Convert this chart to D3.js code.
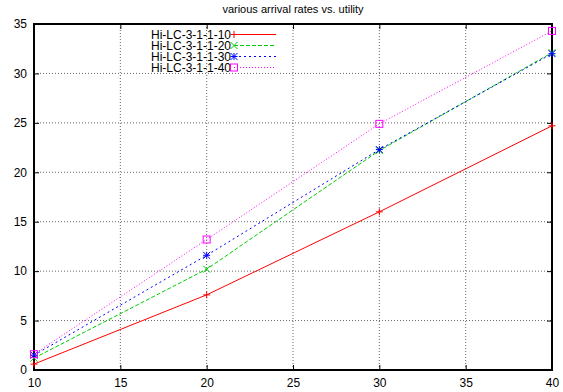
<!DOCTYPE html>
<html>
<head>
<meta charset="utf-8">
<script src="https://cdn.jsdelivr.net/npm/d3@7"></script>
<style>
body { margin: 0; background: #fff; }
text { font-family: "Liberation Sans", Arial, sans-serif; }
</style>
</head>
<body>
<svg id="chart" width="563" height="392"></svg>
<script>
var xValues = [10, 20, 30, 40];
var seriesNames = ["Hi-LC-3-1-1-10", "Hi-LC-3-1-1-20", "Hi-LC-3-1-1-30", "Hi-LC-3-1-1-40"];
var lc10 = [0.6, 7.6, 16.0, 24.7];
var lc20 = [1.2, 10.2, 22.2, 32.1];
var lc30 = [1.5, 11.6, 22.3, 32.0];
var lc40 = [1.6, 13.2, 24.9, 34.3];
var xTicks = [10, 15, 20, 25, 30, 35, 40];
var yTicks = [0, 5, 10, 15, 20, 25, 30, 35];

function chart(){
    var svg = d3.select("#chart"),
        pLeft = 34, pRight = 552, pTop = 24, pBottom = 370;

    var x = d3.scaleLinear().domain([10, 40]).range([pLeft, pRight]);
    var y = d3.scaleLinear().domain([0, 35]).range([pBottom, pTop]);

    var styles = [
        {color: "#ff0000", dash: null, marker: "plus"},
        {color: "#00cc00", dash: "4,2", marker: "cross"},
        {color: "#0000ff", dash: "2,3", marker: "star"},
        {color: "#ff00ff", dash: "1,2", marker: "box"}
    ];
    var allSeries = [lc10, lc20, lc30, lc40];

    // titulo
    svg.append("text")
        .attr("x", (pLeft + pRight) / 2)
        .attr("y", 13)
        .attr("text-anchor", "middle")
        .attr("font-size", "11px")
        .text("various arrival rates vs. utility");

    // grid
    svg.append("g").selectAll("line").data(xTicks.slice(1, -1)).enter().append("line")
        .attr("x1", function(d){ return x(d); }).attr("x2", function(d){ return x(d); })
        .attr("y1", pTop).attr("y2", pBottom)
        .attr("stroke", "#666").attr("stroke-width", 1).attr("stroke-dasharray", "1,2");
    svg.append("g").selectAll("line").data(yTicks.slice(1, -1)).enter().append("line")
        .attr("y1", function(d){ return y(d); }).attr("y2", function(d){ return y(d); })
        .attr("x1", pLeft).attr("x2", pRight)
        .attr("stroke", "#666").attr("stroke-width", 1).attr("stroke-dasharray", "1,2");

    // ejes (ticks hacia dentro)
    svg.append("g").attr("transform", "translate(0," + pBottom + ")")
        .call(d3.axisBottom(x).tickValues(xTicks).tickSize(-5).tickPadding(8))
        .call(function(g){ g.select(".domain").remove(); })
        .selectAll("text").attr("font-size", "12px").attr("fill", "#000");
    svg.append("g").attr("transform", "translate(" + pLeft + ",0)")
        .call(d3.axisLeft(y).tickValues(yTicks).tickSize(-5).tickPadding(7))
        .call(function(g){ g.select(".domain").remove(); })
        .selectAll("text").attr("font-size", "12px").attr("fill", "#000");
    svg.append("g").attr("transform", "translate(0," + pTop + ")")
        .call(d3.axisTop(x).tickValues(xTicks).tickSize(-5).tickFormat(""))
        .call(function(g){ g.select(".domain").remove(); });
    svg.append("g").attr("transform", "translate(" + pRight + ",0)")
        .call(d3.axisRight(y).tickValues(yTicks).tickSize(-5).tickFormat(""))
        .call(function(g){ g.select(".domain").remove(); });

    svg.append("rect")
        .attr("x", pLeft).attr("y", pTop)
        .attr("width", pRight - pLeft).attr("height", pBottom - pTop)
        .attr("fill", "none").attr("stroke", "#000").attr("stroke-width", 2);

    var line = d3.line()
        .x(function(d, i){ return x(xValues[i]); })
        .y(function(d){ return y(d); });

    allSeries.forEach(function(vals, k){
        var st = styles[k];
        var g = svg.append("g");
        g.append("path").datum(vals)
            .attr("d", line)
            .attr("fill", "none")
            .attr("stroke", st.color)
            .attr("stroke-width", 1)
            .attr("stroke-dasharray", st.dash);
        vals.forEach(function(v, i){
            drawMarker(g, st.marker, x(xValues[i]), y(v), st.color);
        });
    });

    // leyenda
    seriesNames.forEach(function(name, k){
        var st = styles[k];
        var ly = 34.5 + k * 11;
        var g = svg.append("g");
        g.append("text")
            .attr("x", 231).attr("y", ly + 4)
            .attr("text-anchor", "end")
            .attr("font-size", "12px")
            .text(name);
        g.append("line")
            .attr("x1", 234).attr("x2", 276)
            .attr("y1", ly).attr("y2", ly)
            .attr("stroke", st.color).attr("stroke-width", 1)
            .attr("stroke-dasharray", st.dash);
        drawMarker(g, st.marker, 234, ly, st.color);
    });
}

function drawMarker(g, type, cx, cy, color) {
    var s = 3.5;
    if (type == "plus") {
        g.append("path").attr("d", "M" + (cx - s) + "," + cy + "H" + (cx + s) + "M" + cx + "," + (cy - s) + "V" + (cy + s))
            .attr("stroke", color).attr("stroke-width", 1);
    } else if (type == "cross") {
        g.append("path").attr("d", "M" + (cx - s) + "," + (cy - s) + "L" + (cx + s) + "," + (cy + s) + "M" + (cx - s) + "," + (cy + s) + "L" + (cx + s) + "," + (cy - s))
            .attr("stroke", color).attr("stroke-width", 1);
    } else if (type == "star") {
        g.append("path").attr("d", "M" + (cx - s) + "," + cy + "H" + (cx + s) + "M" + cx + "," + (cy - s) + "V" + (cy + s) +
            "M" + (cx - s) + "," + (cy - s) + "L" + (cx + s) + "," + (cy + s) + "M" + (cx - s) + "," + (cy + s) + "L" + (cx + s) + "," + (cy - s))
            .attr("stroke", color).attr("stroke-width", 1);
    } else {
        g.append("rect").attr("x", cx - s).attr("y", cy - s).attr("width", 2 * s).attr("height", 2 * s)
            .attr("fill", "none").attr("stroke", color).attr("stroke-width", 1);
    }
}

chart();
</script>
</body>
</html>
